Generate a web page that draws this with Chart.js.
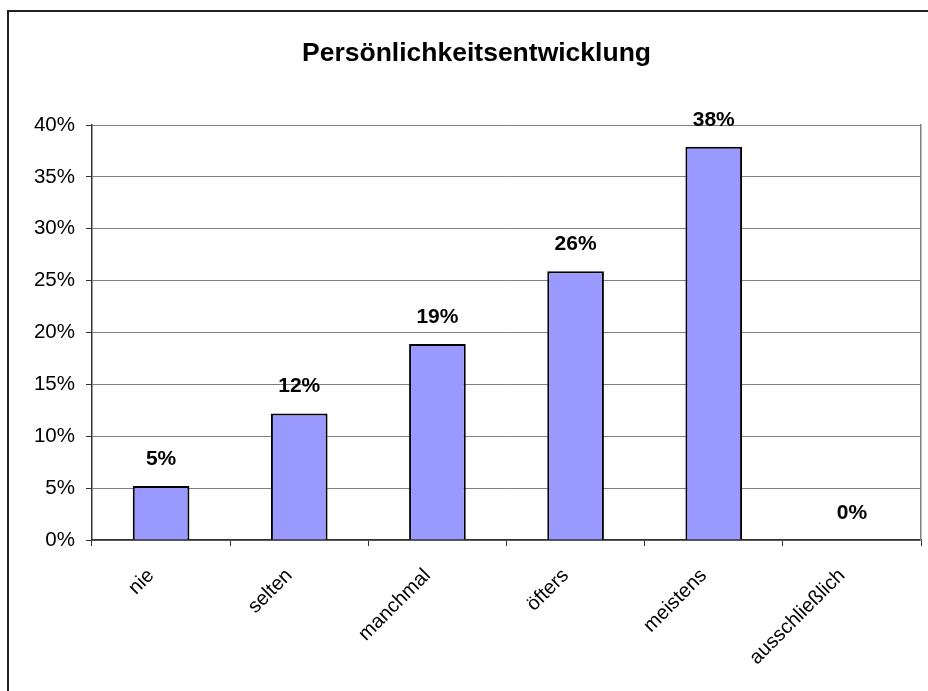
<!DOCTYPE html>
<html>
<head>
<meta charset="utf-8">
<script src="https://cdn.jsdelivr.net/npm/chart.js@4/dist/chart.umd.min.js"></script>
<style>
html,body{margin:0;padding:0;background:#fff;}
canvas{display:block;}
</style>
</head>
<body>
<canvas id="c" width="928" height="691"></canvas>
<script>
const chartTitle = 'Persönlichkeitsentwicklung';
const categories = ['nie', 'selten', 'manchmal', 'öfters', 'meistens', 'ausschließlich'];
const values = [5.2, 12.2, 18.9, 25.9, 37.9, 0];
const valueLabels = ['5%', '12%', '19%', '26%', '38%', '0%'];
const yMin = 0, yMax = 40, yStep = 5;

const FONT = '"Liberation Sans", Arial, sans-serif';

const framePlugin = {
  id: 'frame',
  beforeDraw(chart) {
    const ctx = chart.ctx;
    ctx.save();
    ctx.fillStyle = '#fff';
    ctx.fillRect(0, 0, chart.width, chart.height);
    ctx.strokeStyle = '#222';
    ctx.lineWidth = 2;
    ctx.strokeRect(8, 11, 2000, 2000);
    ctx.restore();
  }
};

const valueLabelPlugin = {
  id: 'valueLabels',
  afterDatasetsDraw(chart) {
    const ctx = chart.ctx;
    const meta = chart.getDatasetMeta(0);
    ctx.save();
    ctx.font = 'bold 21px ' + FONT;
    ctx.fillStyle = '#000';
    ctx.textAlign = 'center';
    ctx.textBaseline = 'middle';
    meta.data.forEach((el, i) => {
      ctx.fillText(valueLabels[i], el.x, el.y - 27);
    });
    ctx.restore();
  }
};

new Chart(document.getElementById('c'), {
  type: 'bar',
  data: {
    labels: categories,
    datasets: [{
      data: values,
      backgroundColor: '#9999FF',
      borderColor: '#000',
      borderWidth: 2,
      barPercentage: 0.41,
      categoryPercentage: 1
    }]
  },
  options: {
    responsive: false,
    animation: false,
    devicePixelRatio: 1,
    layout: { padding: { top: 0, left: 32, right: 7, bottom: 0 } },
    plugins: {
      legend: { display: false },
      tooltip: { enabled: false },
      title: {
        display: true,
        text: chartTitle,
        color: '#000',
        font: { family: FONT, size: 26.5, weight: 'bold' },
        padding: { top: 37.5, bottom: 55.7 }
      }
    },
    scales: {
      x: {
        offset: true,
        grid: { offset: true, drawOnChartArea: false, drawTicks: true, tickLength: 6, color: '#333', lineWidth: 1 },
        border: { color: '#333', width: 1.5 },
        ticks: { color: '#000', font: { family: FONT, size: 20 }, maxRotation: 45, minRotation: 45, padding: 18, labelOffset: -10, autoSkip: false },
        afterFit(s) { s.height = 151; }
      },
      y: {
        min: yMin, max: yMax,
        ticks: { stepSize: yStep, color: '#000', font: { family: FONT, size: 20.5 }, padding: 11, callback: v => v + '%' },
        grid: { color: '#808080', lineWidth: 1, tickLength: 6, tickColor: '#333' },
        border: { color: '#333', width: 1.5 },
        afterFit(s) { s.width = 60; }
      },
      yRight: {
        position: 'right',
        display: true,
        grid: { drawOnChartArea: false, drawTicks: false },
        ticks: { display: false },
        border: { color: '#808080', width: 1.5 },
        afterFit(s) { s.width = 0; }
      }
    }
  },
  plugins: [framePlugin, valueLabelPlugin]
});
</script>
</body>
</html>
